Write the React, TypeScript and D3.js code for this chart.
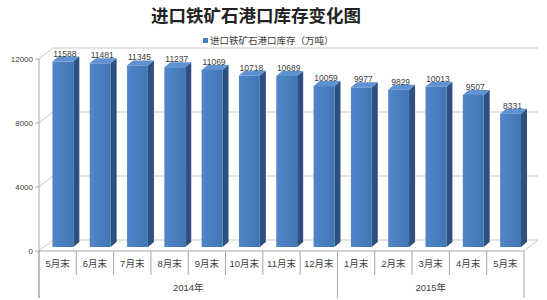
import React from "react";
import * as d3 from "d3";

const categories = ["5月末", "6月末", "7月末", "8月末", "9月末", "10月末", "11月末", "12月末", "1月末", "2月末", "3月末", "4月末", "5月末"];
const values = [11588, 11481, 11345, 11237, 11069, 10718, 10689, 10059, 9977, 9829, 10013, 9507, 8331];
const years = ["2014年", "2015年"];
const yearSpans = [8, 5];
const yTicks = [0, 4000, 8000, 12000];
const title = "进口铁矿石港口库存变化图";
const legendLabel = "进口铁矿石港口库存（万吨）";

const W = 547, H = 300;
const left = 39, right = 524, floorY = 251;
const DX = 14, DY = -11;

export default function App() {
  const x = d3.scaleBand<string>().domain(categories.map((c, i) => i + "")).range([left, right]).paddingInner(0).paddingOuter(0);
  const y = d3.scaleLinear().domain([0, 12000]).range([floorY, floorY - 192]);
  const bw = x.bandwidth();
  const barW = bw * 0.56;
  const barOff = bw * 0.36;
  const sideDx = 6, sideDy = -5;
  const barLift = 4;
  const grid = "#c9c9c9";
  const axis = "#a6a6a6";
  const txt = "#404040";
  const font = "'Liberation Sans', Arial, 'Noto Sans CJK SC', sans-serif";

  const bounds: number[] = [];
  for (let i = 0; i <= categories.length; i++) bounds.push(left + i * bw);
  const yearBounds = [0, yearSpans[0], yearSpans[0] + yearSpans[1]];

  return (
    <svg width={W} height={H} style={{ position: "absolute", left: 0, top: 0, background: "#fff" }} fontFamily={font}>
      <defs>
        <linearGradient id="front" x1="0" x2="1" y1="0" y2="0">
          <stop offset="0" stopColor="#5087c8" />
          <stop offset="1" stopColor="#4275b4" />
        </linearGradient>
      </defs>
      <text x={256} y={22} textAnchor="middle" fontSize={17.5} fontWeight={700} fill="#222" fontFamily="'Noto Sans CJK SC', sans-serif">{title}</text>
      <rect x={203} y={38} width={5} height={5} fill="#4a7ebb" />
      <text x={210} y={44} fontSize={9.5} fill={txt} fontFamily="'Noto Sans CJK SC', sans-serif">{legendLabel}</text>

      {yTicks.map((t) => (
        <g key={t}>
          <line x1={left + DX} x2={right + DX} y1={y(t) + DY} y2={y(t) + DY} stroke={grid} strokeWidth={1} />
          <line x1={left} x2={left + DX} y1={y(t)} y2={y(t) + DY} stroke={grid} strokeWidth={1} />
          <line x1={left - 4} x2={left} y1={y(t)} y2={y(t)} stroke={axis} strokeWidth={1} />
          <text x={left - 6} y={y(t) + 3} textAnchor="end" fontSize={8} fill={txt}>{t}</text>
        </g>
      ))}
      <line x1={right} x2={right + DX} y1={floorY} y2={floorY + DY} stroke={grid} />

      {values.map((v, i) => {
        const x0 = (x(i + "") as number) + barOff;
        const yb = floorY - barLift;
        const yt = y(v) - barLift;
        return (
          <g key={i}>
            <polygon points={`${x0 + barW},${yb} ${x0 + barW + sideDx},${yb + sideDy} ${x0 + barW + sideDx},${yt + sideDy} ${x0 + barW},${yt}`} fill="#2d5080" />
            <polygon points={`${x0},${yt} ${x0 + sideDx},${yt + sideDy} ${x0 + barW + sideDx},${yt + sideDy} ${x0 + barW},${yt}`} fill="#5f92d2" />
            <rect x={x0} y={yt} width={barW} height={yb - yt} fill="url(#front)" />
            <text x={x0 + barW / 2 + 2} y={yt - 5} textAnchor="middle" fontSize={8.5} fill={txt}>{v}</text>
          </g>
        );
      })}

      <line x1={left} x2={left} y1={y(12000)} y2={298} stroke={axis} />
      <line x1={left} x2={right} y1={floorY} y2={floorY} stroke={axis} />
      {bounds.map((b, i) => {
        const isYear = yearBounds.includes(i);
        return <line key={i} x1={b} x2={b} y1={floorY} y2={isYear ? 298 : 275} stroke={axis} />;
      })}
      {categories.map((c, i) => (
        <text key={i} x={(x(i + "") as number) + bw / 2} y={267} textAnchor="middle" fontSize={9.5} fill={txt}>{c}</text>
      ))}
      {years.map((yr, k) => {
        const a = bounds[yearBounds[k]], b = bounds[yearBounds[k + 1]];
        return <text key={yr} x={(a + b) / 2} y={291} textAnchor="middle" fontSize={9.5} fill={txt}>{yr}</text>;
      })}
    </svg>
  );
}
